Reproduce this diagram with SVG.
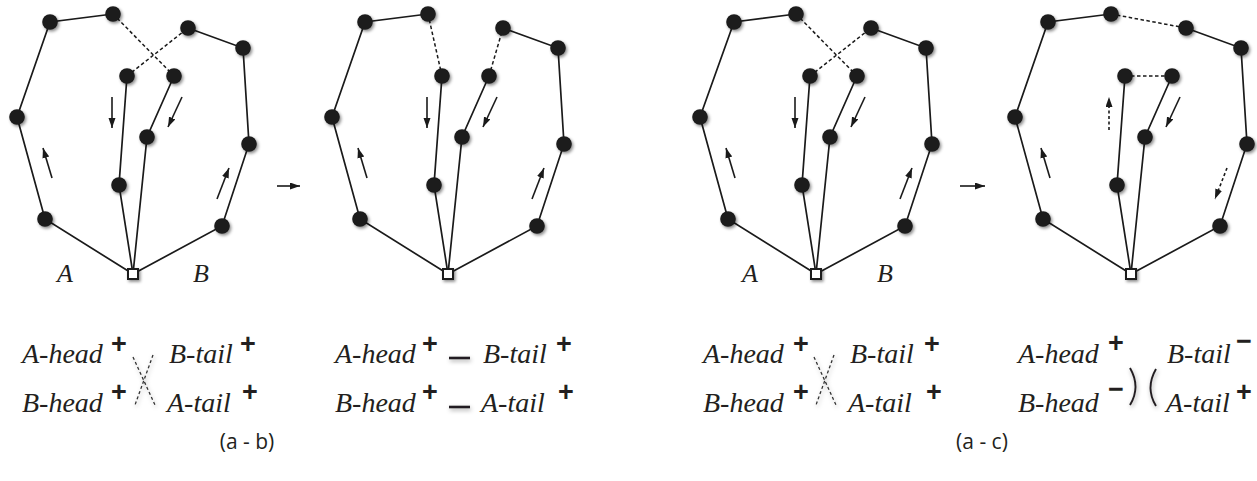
<svg xmlns="http://www.w3.org/2000/svg" width="1257" height="481" viewBox="0 0 1257 481">
<defs>
<style>
.e{stroke:#1a1a1a;stroke-width:1.7;fill:none}
.d{stroke:#1a1a1a;stroke-width:1.5;fill:none;stroke-dasharray:3.5 2.5}
.a{stroke:#1a1a1a;stroke-width:1.6;fill:none;marker-end:url(#ah)}
.ad{stroke:#1a1a1a;stroke-width:1.6;fill:none;stroke-dasharray:3 2.5;marker-end:url(#ah)}
.n{fill:#1a1a1a;filter:url(#sh)}
.r{fill:#fff;stroke:#1a1a1a;stroke-width:2;filter:url(#sh)}
.t{font-family:"Liberation Serif",serif;font-style:italic;font-size:28px;fill:#231f20}
.lb{font-family:"Liberation Serif",serif;font-style:italic;font-size:26px;fill:#231f20}
.s{font-family:"Liberation Sans",sans-serif;font-weight:bold;font-size:27px;fill:#231f20;text-anchor:middle}
.c{font-family:"Open Sans",sans-serif;font-size:21px;fill:#231f20;text-anchor:middle}
.x{stroke:#333;stroke-width:1.3;fill:none;stroke-dasharray:3 2.5;filter:url(#sh2)}
.m{stroke:#231f20;stroke-width:2.6;fill:none;filter:url(#sh2)}
.p{stroke:#231f20;stroke-width:1.9;fill:none;filter:url(#sh2)}
</style>
<filter id="sh" filterUnits="userSpaceOnUse" x="-20" y="-20" width="1300" height="520"><feDropShadow dx="1.5" dy="1.8" stdDeviation="1.4" flood-color="#000" flood-opacity="0.45"/></filter>
<filter id="sh2" filterUnits="userSpaceOnUse" x="-20" y="-20" width="1300" height="520"><feDropShadow dx="1" dy="2" stdDeviation="2" flood-color="#000" flood-opacity="0.35"/></filter>
<marker id="ah" markerUnits="userSpaceOnUse" markerWidth="11" markerHeight="8" refX="10" refY="3.5" orient="auto"><path d="M0,0 L10,3.5 L0,7 z" fill="#1a1a1a"/></marker>
</defs>

<g id="connectors">
<g id="c-p1">
<polyline class="e" points="133,274 45,219 17,117 50,22 113,14"/>
<line class="d" x1="113" y1="14" x2="174" y2="76"/>
<polyline class="e" points="174,76 147,137 133,274"/>
<polyline class="e" points="133,274 119,185 127,76"/>
<line class="d" x1="127" y1="76" x2="188" y2="28"/>
<polyline class="e" points="188,28 243,48 249,144 222,226 133,274"/>
<line class="a" x1="112" y1="97" x2="112" y2="128"/>
<line class="a" x1="182" y1="97" x2="168" y2="127"/>
<line class="a" x1="52" y1="178" x2="43" y2="148"/>
<line class="a" x1="217" y1="199" x2="229" y2="168"/>
</g>
<line class="a" x1="277" y1="186" x2="300" y2="186"/>
<g id="c-p2">
<polyline class="e" points="448,274 360,219 332,117 365,22 428,14"/>
<line class="d" x1="428" y1="14" x2="442" y2="76"/>
<polyline class="e" points="489,76 462,137 448,274"/>
<polyline class="e" points="448,274 434,185 442,76"/>
<line class="d" x1="489" y1="76" x2="503" y2="28"/>
<polyline class="e" points="503,28 558,48 564,144 537,226 448,274"/>
<line class="a" x1="427" y1="97" x2="427" y2="128"/>
<line class="a" x1="497" y1="97" x2="483" y2="127"/>
<line class="a" x1="367" y1="178" x2="358" y2="148"/>
<line class="a" x1="532" y1="199" x2="544" y2="168"/>
</g>
<g id="c-p3">
<polyline class="e" points="816,274 728,219 700,117 734,22 796,14"/>
<line class="d" x1="796" y1="14" x2="857" y2="76"/>
<polyline class="e" points="857,76 830,137 816,274"/>
<polyline class="e" points="816,274 802,185 810,76"/>
<line class="d" x1="810" y1="76" x2="871" y2="28"/>
<polyline class="e" points="871,28 926,48 932,144 905,226 816,274"/>
<line class="a" x1="795" y1="97" x2="795" y2="128"/>
<line class="a" x1="865" y1="97" x2="851" y2="127"/>
<line class="a" x1="735" y1="178" x2="726" y2="148"/>
<line class="a" x1="900" y1="199" x2="912" y2="168"/>
</g>
<line class="a" x1="960" y1="186" x2="985" y2="186"/>
<g id="c-p4">
<polyline class="e" points="1131,274 1043,219 1015,117 1048,22 1111,14"/>
<line class="d" x1="1111" y1="14" x2="1186" y2="28"/>
<polyline class="e" points="1172,76 1145,137 1131,274"/>
<polyline class="e" points="1131,274 1117,185 1125,76"/>
<line class="d" x1="1125" y1="76" x2="1172" y2="76"/>
<polyline class="e" points="1186,28 1241,48 1247,144 1220,226 1131,274"/>
<line class="ad" x1="1109" y1="130" x2="1109" y2="97"/>
<line class="a" x1="1180" y1="97" x2="1166" y2="127"/>
<line class="a" x1="1050" y1="178" x2="1041" y2="148"/>
<line class="ad" x1="1227" y1="168" x2="1215" y2="199"/>
</g>
</g>

<g id="p1-n1"><circle class="n" cx="50" cy="22" r="7.8"/></g>
<g id="p1-n2"><circle class="n" cx="113" cy="14" r="7.8"/></g>
<g id="p1-n3"><circle class="n" cx="17" cy="117" r="7.8"/></g>
<g id="p1-n4"><circle class="n" cx="45" cy="219" r="7.8"/></g>
<g id="p1-ia1"><circle class="n" cx="127" cy="76" r="7.8"/></g>
<g id="p1-ia2"><circle class="n" cx="119" cy="185" r="7.8"/></g>
<g id="p1-ib1"><circle class="n" cx="174" cy="76" r="7.8"/></g>
<g id="p1-ib2"><circle class="n" cx="147" cy="137" r="7.8"/></g>
<g id="p1-b1"><circle class="n" cx="188" cy="28" r="7.8"/></g>
<g id="p1-b2"><circle class="n" cx="243" cy="48" r="7.8"/></g>
<g id="p1-b3"><circle class="n" cx="249" cy="144" r="7.8"/></g>
<g id="p1-b4"><circle class="n" cx="222" cy="226" r="7.8"/></g>
<g id="p1-root"><rect class="r" x="128" y="269" width="10" height="10"/></g>
<g id="p1-labels"><text class="lb" x="57" y="282">A</text><text class="lb" x="193" y="282">B</text></g>

<g id="p2-n1"><circle class="n" cx="365" cy="22" r="7.8"/></g>
<g id="p2-n2"><circle class="n" cx="428" cy="14" r="7.8"/></g>
<g id="p2-n3"><circle class="n" cx="332" cy="117" r="7.8"/></g>
<g id="p2-n4"><circle class="n" cx="360" cy="219" r="7.8"/></g>
<g id="p2-ia1"><circle class="n" cx="442" cy="76" r="7.8"/></g>
<g id="p2-ia2"><circle class="n" cx="434" cy="185" r="7.8"/></g>
<g id="p2-ib1"><circle class="n" cx="489" cy="76" r="7.8"/></g>
<g id="p2-ib2"><circle class="n" cx="462" cy="137" r="7.8"/></g>
<g id="p2-b1"><circle class="n" cx="503" cy="28" r="7.8"/></g>
<g id="p2-b2"><circle class="n" cx="558" cy="48" r="7.8"/></g>
<g id="p2-b3"><circle class="n" cx="564" cy="144" r="7.8"/></g>
<g id="p2-b4"><circle class="n" cx="537" cy="226" r="7.8"/></g>
<g id="p2-root"><rect class="r" x="443" y="269" width="10" height="10"/></g>

<g id="p3-n1"><circle class="n" cx="734" cy="22" r="7.8"/></g>
<g id="p3-n2"><circle class="n" cx="796" cy="14" r="7.8"/></g>
<g id="p3-n3"><circle class="n" cx="700" cy="117" r="7.8"/></g>
<g id="p3-n4"><circle class="n" cx="728" cy="219" r="7.8"/></g>
<g id="p3-ia1"><circle class="n" cx="810" cy="76" r="7.8"/></g>
<g id="p3-ia2"><circle class="n" cx="802" cy="185" r="7.8"/></g>
<g id="p3-ib1"><circle class="n" cx="857" cy="76" r="7.8"/></g>
<g id="p3-ib2"><circle class="n" cx="830" cy="137" r="7.8"/></g>
<g id="p3-b1"><circle class="n" cx="871" cy="28" r="7.8"/></g>
<g id="p3-b2"><circle class="n" cx="926" cy="48" r="7.8"/></g>
<g id="p3-b3"><circle class="n" cx="932" cy="144" r="7.8"/></g>
<g id="p3-b4"><circle class="n" cx="905" cy="226" r="7.8"/></g>
<g id="p3-root"><rect class="r" x="811" y="269" width="10" height="10"/></g>
<g id="p3-labels"><text class="lb" x="742" y="282">A</text><text class="lb" x="877" y="282">B</text></g>

<g id="p4-n1"><circle class="n" cx="1048" cy="22" r="7.8"/></g>
<g id="p4-n2"><circle class="n" cx="1111" cy="14" r="7.8"/></g>
<g id="p4-n3"><circle class="n" cx="1015" cy="117" r="7.8"/></g>
<g id="p4-n4"><circle class="n" cx="1043" cy="219" r="7.8"/></g>
<g id="p4-ia1"><circle class="n" cx="1125" cy="76" r="7.8"/></g>
<g id="p4-ia2"><circle class="n" cx="1117" cy="185" r="7.8"/></g>
<g id="p4-ib1"><circle class="n" cx="1172" cy="76" r="7.8"/></g>
<g id="p4-ib2"><circle class="n" cx="1145" cy="137" r="7.8"/></g>
<g id="p4-b1"><circle class="n" cx="1186" cy="28" r="7.8"/></g>
<g id="p4-b2"><circle class="n" cx="1241" cy="48" r="7.8"/></g>
<g id="p4-b3"><circle class="n" cx="1247" cy="144" r="7.8"/></g>
<g id="p4-b4"><circle class="n" cx="1220" cy="226" r="7.8"/></g>
<g id="p4-root"><rect class="r" x="1126" y="269" width="10" height="10"/></g>

<g id="f1">
<text class="t" x="22" y="363">A-head</text><text class="s" x="119" y="353">+</text>
<text class="t" x="169" y="363">B-tail</text><text class="s" x="248" y="353">+</text>
<text class="t" x="22" y="412">B-head</text><text class="s" x="119" y="401">+</text>
<text class="t" x="167" y="412">A-tail</text><text class="s" x="250" y="401">+</text>
<line class="x" x1="133" y1="357" x2="155" y2="405"/>
<line class="x" x1="153" y1="355" x2="135" y2="405"/>
</g>
<g id="f2">
<text class="t" x="335" y="363">A-head</text><text class="s" x="430" y="353">+</text>
<line class="m" x1="449" y1="358" x2="470" y2="358"/>
<text class="t" x="483" y="363">B-tail</text><text class="s" x="564" y="353">+</text>
<text class="t" x="335" y="412">B-head</text><text class="s" x="430" y="401">+</text>
<line class="m" x1="449" y1="407" x2="470" y2="407"/>
<text class="t" x="481" y="412">A-tail</text><text class="s" x="566" y="401">+</text>
</g>
<g id="f3">
<text class="t" x="703" y="363">A-head</text><text class="s" x="801" y="353">+</text>
<text class="t" x="850" y="363">B-tail</text><text class="s" x="932" y="353">+</text>
<text class="t" x="703" y="412">B-head</text><text class="s" x="801" y="401">+</text>
<text class="t" x="848" y="412">A-tail</text><text class="s" x="934" y="401">+</text>
<line class="x" x1="814" y1="357" x2="836" y2="405"/>
<line class="x" x1="834" y1="355" x2="816" y2="405"/>
</g>
<g id="f4">
<text class="t" x="1018" y="363">A-head</text><text class="s" x="1116" y="352">+</text>
<text class="t" x="1018" y="412">B-head</text><text class="s" x="1116" y="398">−</text>
<path class="p" d="M1130,368 Q1141,387 1130,405"/>
<path class="p" d="M1156,369 Q1145,388 1156,406"/>
<text class="t" x="1167" y="363">B-tail</text><text class="s" x="1244" y="350">−</text>
<text class="t" x="1166" y="412">A-tail</text><text class="s" x="1244" y="401">+</text>
</g>

<g id="captions">
<text class="c" x="247" y="449">(a - b)</text>
<text class="c" x="982" y="449">(a - c)</text>
</g>
</svg>
